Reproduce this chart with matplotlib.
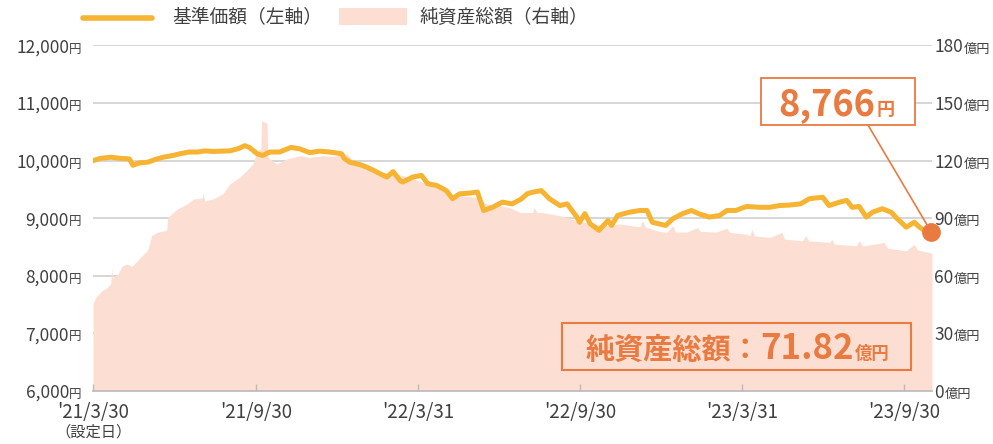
import matplotlib
matplotlib.use("Agg")
import matplotlib.pyplot as plt
from matplotlib.patches import Rectangle
from matplotlib.lines import Line2D
import pandas as pd

plt.rcParams["font.family"] = ["Noto Sans CJK JP", "DejaVu Sans"]

# ── Data ──────────────────────────────────────────────────────────────────────

# 基準価額 (円)
PRICE_DATES = [
    "2021-03-30", "2021-04-07", "2021-04-19", "2021-04-30", "2021-05-10", "2021-05-14",
    "2021-05-21", "2021-05-31", "2021-06-08", "2021-06-17", "2021-06-28", "2021-07-06",
    "2021-07-16", "2021-07-26", "2021-08-03", "2021-08-12", "2021-08-20", "2021-08-31",
    "2021-09-10", "2021-09-17", "2021-09-22", "2021-10-01", "2021-10-07", "2021-10-15",
    "2021-10-26", "2021-11-08", "2021-11-18", "2021-11-29", "2021-12-10", "2021-12-22",
    "2022-01-04", "2022-01-07", "2022-01-13", "2022-01-25", "2022-02-01", "2022-02-08",
    "2022-02-16", "2022-02-24", "2022-03-03", "2022-03-11", "2022-03-14", "2022-03-25",
    "2022-04-04", "2022-04-11", "2022-04-21", "2022-05-02", "2022-05-09", "2022-05-17",
    "2022-05-27", "2022-06-06", "2022-06-13", "2022-06-23", "2022-07-04", "2022-07-15",
    "2022-07-25", "2022-08-01", "2022-08-08", "2022-08-17", "2022-08-26", "2022-09-07",
    "2022-09-15", "2022-09-26", "2022-09-29", "2022-10-05", "2022-10-11", "2022-10-21",
    "2022-10-31", "2022-11-04", "2022-11-11", "2022-11-24", "2022-12-06", "2022-12-14",
    "2022-12-20", "2023-01-04", "2023-01-12", "2023-01-23", "2023-02-02", "2023-02-10",
    "2023-02-22", "2023-03-06", "2023-03-14", "2023-03-24", "2023-04-05", "2023-04-20",
    "2023-05-01", "2023-05-12", "2023-05-24", "2023-06-05", "2023-06-15", "2023-06-30",
    "2023-07-07", "2023-07-19", "2023-07-27", "2023-08-02", "2023-08-10", "2023-08-18",
    "2023-08-25", "2023-09-05", "2023-09-15", "2023-09-22", "2023-10-02", "2023-10-11",
    "2023-10-17", "2023-10-25", "2023-10-30",
]
PRICE = [
    10000, 10040, 10060, 10040, 10030, 9920,
    9960, 9975, 10020, 10060, 10090, 10120,
    10150, 10150, 10170, 10160, 10165, 10170,
    10210, 10260, 10230, 10120, 10090, 10150,
    10150, 10230, 10205, 10140, 10165, 10150,
    10120, 10040, 9975, 9930, 9890, 9840,
    9775, 9715, 9810, 9650, 9630, 9715,
    9745, 9600, 9570, 9480, 9340, 9425,
    9435, 9455, 9135, 9190, 9280, 9250,
    9330, 9425, 9455, 9480, 9340, 9220,
    9250, 9020, 8930, 9080, 8905, 8790,
    8960, 8875, 9050, 9105, 9135, 9135,
    8930, 8875, 8990, 9080, 9135, 9080,
    9020, 9050, 9135, 9135, 9205, 9190,
    9190, 9220, 9230, 9250, 9340, 9365,
    9220, 9280, 9310, 9190, 9205, 9020,
    9105, 9165, 9105, 8990, 8845, 8930,
    8845, 8760, 8766,
]

# 純資産総額 (億円)
NAV_DATES = [
    "2021-03-30", "2021-04-02", "2021-04-09", "2021-04-15", "2021-04-19", "2021-04-20",
    "2021-04-21", "2021-04-27", "2021-05-02", "2021-05-07", "2021-05-13", "2021-05-19",
    "2021-05-22", "2021-05-30", "2021-06-02", "2021-06-04", "2021-06-10", "2021-06-21",
    "2021-06-22", "2021-07-03", "2021-07-14", "2021-07-21", "2021-07-31", "2021-08-01",
    "2021-08-03", "2021-08-12", "2021-08-23", "2021-08-31", "2021-09-11", "2021-09-19",
    "2021-09-26", "2021-10-01", "2021-10-05", "2021-10-06", "2021-10-12", "2021-10-13",
    "2021-10-23", "2021-11-03", "2021-11-18", "2021-11-29", "2021-12-14", "2021-12-25",
    "2022-01-10", "2022-01-21", "2022-02-05", "2022-02-19", "2022-03-07", "2022-03-22",
    "2022-04-05", "2022-04-21", "2022-05-06", "2022-05-20", "2022-06-05", "2022-06-16",
    "2022-07-01", "2022-07-12", "2022-07-24", "2022-08-07", "2022-08-09", "2022-08-12",
    "2022-08-18", "2022-09-07", "2022-09-15", "2022-09-26", "2022-10-14", "2022-11-02",
    "2022-11-13", "2022-12-06", "2022-12-09", "2022-12-12", "2022-12-25", "2023-01-05",
    "2023-01-12", "2023-01-15", "2023-01-28", "2023-02-09", "2023-02-12", "2023-03-02",
    "2023-03-14", "2023-03-17", "2023-04-05", "2023-04-09", "2023-04-11", "2023-04-14",
    "2023-05-01", "2023-05-15", "2023-05-18", "2023-06-07", "2023-06-11", "2023-06-14",
    "2023-07-08", "2023-07-10", "2023-07-13", "2023-08-07", "2023-08-10", "2023-08-14",
    "2023-09-07", "2023-09-11", "2023-10-02", "2023-10-11", "2023-10-15", "2023-10-31",
]
NAV = [
    45.2, 48.7, 52.2, 53.9, 56.0, 64.3,
    59.1, 60.9, 65.2, 66.1, 65.0, 67.8,
    69.5, 73.0, 77.0, 80.9, 82.6, 83.8,
    90.4, 94.8, 97.4, 100.0, 100.5, 102.9,
    99.1, 100.0, 102.6, 107.8, 111.3, 114.8,
    118.3, 125.0, 126.0, 140.9, 139.5, 121.7,
    118.3, 120.9, 122.6, 121.7, 122.6, 122.1,
    123.5, 118.3, 116.5, 113.9, 113.0, 111.3,
    108.7, 106.1, 102.6, 101.7, 100.8, 97.4,
    96.5, 95.6, 93.0, 93.0, 95.6, 93.0,
    93.0, 91.3, 90.4, 88.7, 87.0, 86.1,
    87.0, 85.5, 88.7, 85.5, 83.5, 82.6,
    86.1, 82.8, 82.8, 85.2, 83.2, 82.8,
    84.8, 82.6, 81.7, 80.9, 84.3, 80.8,
    80.0, 82.6, 79.1, 78.3, 80.9, 78.2,
    77.4, 79.1, 76.5, 75.7, 78.3, 75.5,
    77.4, 74.4, 73.0, 76.5, 73.4, 71.82,
]

LEFT_TICKS = [6000, 7000, 8000, 9000, 10000, 11000, 12000]
RIGHT_TICKS = [0, 30, 60, 90, 120, 150, 180]
X_TICKS = ["2021-03-30", "2021-09-30", "2022-03-31", "2022-09-30", "2023-03-31", "2023-09-30"]
X_LABELS = ["'21/3/30", "'21/9/30", "'22/3/31", "'22/9/30", "'23/3/31", "'23/9/30"]
X_START, X_END = "2021-03-30", "2023-10-31"

# ── Style ─────────────────────────────────────────────────────────────────────

LINE_C = "#F6B432"
AREA_C = "#FCDED2"
ACCENT = "#E97A40"
TEXT_C = "#404040"
GRID_C = "#D0D0D0"
AXIS_C = "#BBBBBB"

W, H = 993, 444
fig = plt.figure(figsize=(W / 100, H / 100), dpi=100)
fig.patch.set_facecolor("white")

ax = fig.add_axes([93 / W, 1 - 391 / H, (932 - 93) / W, (391 - 45.5) / H])
ax2 = ax.twinx()
ax.set_zorder(ax2.get_zorder() + 1)
ax.patch.set_visible(False)

price_dates = pd.to_datetime(PRICE_DATES)
nav_dates = pd.to_datetime(NAV_DATES)

# area (right axis) sits over the grid, line (left axis) over the area
ax2.fill_between(nav_dates, 0, NAV, color=AREA_C, lw=0, zorder=1)
ax2.set_ylim(RIGHT_TICKS[0], RIGHT_TICKS[-1])
ax2.set_yticks(RIGHT_TICKS)
ax2.set_axisbelow(True)
ax2.yaxis.grid(True, color=GRID_C, lw=1.2)
ax2.tick_params(axis="y", right=False, labelright=False)

ax.plot(price_dates, PRICE, color=LINE_C, lw=3.6,
        solid_joinstyle="round", solid_capstyle="round", zorder=3)
ax.plot(price_dates[-1], PRICE[-1], "o", ms=12.5, color=ACCENT,
        zorder=5, clip_on=False)
ax.set_ylim(LEFT_TICKS[0], LEFT_TICKS[-1])
ax.set_yticks(LEFT_TICKS)
ax.tick_params(axis="y", left=False, labelleft=False)

ax.set_xlim(pd.Timestamp(X_START), pd.Timestamp(X_END))
ax.set_xticks(pd.to_datetime(X_TICKS))
ax.set_xticklabels(X_LABELS, fontsize=13.5, color=TEXT_C)
ax.tick_params(axis="x", direction="in", length=5, width=1, color=AXIS_C, pad=8)

for a in (ax, ax2):
    for s in ("top", "left", "right"):
        a.spines[s].set_visible(False)
ax2.spines["bottom"].set_visible(False)
ax.spines["bottom"].set_color(AXIS_C)
ax.spines["bottom"].set_linewidth(1.2)

# y tick labels: number + smaller unit
for v in LEFT_TICKS:
    ax.annotate(f"{v:,}", xy=(0, v), xycoords=("axes fraction", "data"),
                xytext=(-24, -7), textcoords="offset pixels", ha="right",
                va="baseline", fontsize=12.5, color=TEXT_C, annotation_clip=False)
    ax.annotate("円", xy=(0, v), xycoords=("axes fraction", "data"),
                xytext=(-24, -7), textcoords="offset pixels", ha="left",
                va="baseline", fontsize=9, color=TEXT_C, annotation_clip=False)

for v in RIGHT_TICKS:
    num = ax2.annotate(f"{v}", xy=(1, v), xycoords=("axes fraction", "data"),
                       xytext=(2, -7), textcoords="offset pixels", ha="left",
                       va="baseline", fontsize=12.5, color=TEXT_C, annotation_clip=False)
    ax2.annotate("億円", xy=(1, v), xycoords=(num, "data"),
                 xytext=(1, -7), textcoords="offset pixels", ha="left",
                 va="baseline", fontsize=9.5, color=TEXT_C, annotation_clip=False)

ax.annotate("（設定日）", xy=(pd.Timestamp(X_TICKS[0]), 0),
            xycoords=("data", "axes fraction"), xytext=(0, -33),
            textcoords="offset pixels", ha="center", va="top",
            fontsize=11, color=TEXT_C, annotation_clip=False)

# ── Legend ───────────────────────────────────────────────────────────────────
fig.add_artist(Line2D([83 / W, 152 / W], [1 - 18 / H] * 2, color=LINE_C, lw=4,
                      solid_capstyle="round"))
fig.text(172 / W, 1 - 17 / H, "基準価額（左軸）", va="center", fontsize=13.5, color=TEXT_C)
fig.add_artist(Rectangle((339 / W, 1 - 25 / H), 68 / W, 17 / H, color=AREA_C, lw=0))
fig.text(420 / W, 1 - 17 / H, "純資産総額（右軸）", va="center", fontsize=13.5, color=TEXT_C)

# ── Callouts ─────────────────────────────────────────────────────────────────
fig.add_artist(Rectangle((761 / W, 1 - 125 / H), 154 / W, 47 / H,
                         fc="white", ec=ACCENT, lw=1.3))
ax.annotate("", xy=(price_dates[-1], PRICE[-1]), xycoords="data",
            xytext=(868, H - 125), textcoords="figure pixels",
            arrowprops=dict(arrowstyle="-", color=ACCENT, lw=1.2,
                            shrinkA=0, shrinkB=0), annotation_clip=False)
fig.text(875 / W, 1 - 115 / H, f"{PRICE[-1]:,}", ha="right", va="baseline",
         fontsize=26, fontweight="bold", color=ACCENT)
fig.text(877 / W, 1 - 115 / H, "円", ha="left", va="baseline",
         fontsize=13, fontweight="bold", color=ACCENT)

fig.add_artist(Rectangle((562 / W, 1 - 370 / H), 349 / W, 47 / H,
                         fill=False, ec=ACCENT, lw=1.5))
t1 = fig.text(586 / W, 1 - 359 / H, "純資産総額：", ha="left", va="baseline",
              fontsize=21, fontweight="bold", color=ACCENT)
t2 = ax.annotate(f"{NAV[-1]:.2f}", xy=(1, H - 359), xycoords=(t1, "figure pixels"),
                 xytext=(-1, 0), textcoords="offset pixels", ha="left", va="baseline",
                 fontsize=25, fontweight="bold", color=ACCENT, annotation_clip=False)
ax.annotate("億円", xy=(1, H - 359), xycoords=(t2, "figure pixels"),
            xytext=(2, 0), textcoords="offset pixels", ha="left", va="baseline",
            fontsize=12.5, fontweight="bold", color=ACCENT, annotation_clip=False)

fig.savefig("out.png", dpi=100, facecolor="white")
